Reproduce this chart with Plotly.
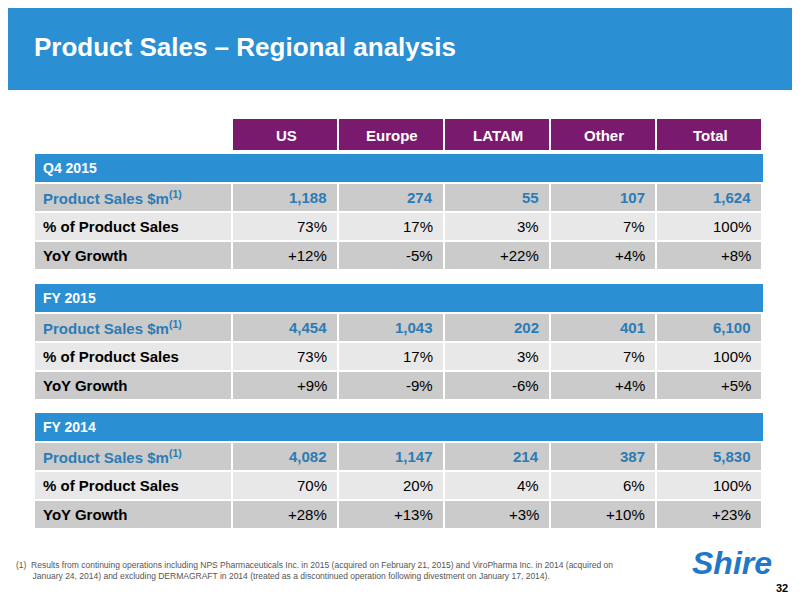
import plotly.graph_objects as go

columns = ["US", "Europe", "LATAM", "Other", "Total"]
sections = ["Q4 2015", "FY 2015", "FY 2014"]
row_labels = ["Product Sales $m<sup>(1)</sup>", "% of Product Sales", "YoY Growth"]

q4_2015 = [["1,188", "274", "55", "107", "1,624"],
           ["73%", "17%", "3%", "7%", "100%"],
           ["+12%", "-5%", "+22%", "+4%", "+8%"]]
fy_2015 = [["4,454", "1,043", "202", "401", "6,100"],
           ["73%", "17%", "3%", "7%", "100%"],
           ["+9%", "-9%", "-6%", "+4%", "+5%"]]
fy_2014 = [["4,082", "1,147", "214", "387", "5,830"],
           ["70%", "20%", "4%", "6%", "100%"],
           ["+28%", "+13%", "+3%", "+10%", "+23%"]]
tables = [q4_2015, fy_2015, fy_2014]

footnote = ("(1)  Results from continuing operations including NPS Pharmaceuticals Inc. in 2015 (acquired on February 21, 2015) and ViroPharma Inc. in 2014 (acquired on<br>"
            "       January 24, 2014) and excluding DERMAGRAFT in 2014 (treated as a discontinued operation following divestment on January 17, 2014).")

BLUE = "#2b8fd4"
PURPLE = "#7a1a6f"
DARK = "#cbcbcb"
LIGHT = "#e8e8e8"
FONT = "Liberation Sans"

# page body adds an 8px margin, so draw everything shifted back
OFF = 8

shapes = []
ann = []

def rect(x0, y0, x1, y1, color):
    shapes.append(dict(type="rect", x0=x0 - OFF, x1=x1 - OFF, y0=y0 - OFF, y1=y1 - OFF,
                       fillcolor=color, line=dict(width=0), layer="below"))

def text(x, y, s, size=15, color="black", bold=True, anchor="left"):
    if bold:
        s = "<b>" + s + "</b>"
    ann.append(dict(x=x - OFF, y=y - OFF, text=s, showarrow=False, xanchor=anchor, yanchor="middle",
                    font=dict(family=FONT, size=size, color=color)))

# header band
rect(0, 0, 820, 90, BLUE)
text(32, 47, "Product Sales – Regional analysis", size=26, color="white")

col_x = [233, 339, 445, 551, 657, 763]
label_x0 = 35

for i, c in enumerate(columns):
    rect(col_x[i], 119, col_x[i + 1] - 2, 150, PURPLE)
    text((col_x[i] + col_x[i + 1]) / 2, 135, c, size=15, color="white", anchor="center")

starts = [154, 284, 413]
for s, (sec, tab) in enumerate(zip(sections, tables)):
    y = starts[s]
    rect(label_x0, y, 763, y + 28, BLUE)
    text(label_x0 + 6, y + 14, sec, size=14, color="white")
    y += 30
    for r, lab in enumerate(row_labels):
        fill = LIGHT if r == 1 else DARK
        color = "#2a7cb6" if r == 0 else "black"
        rect(label_x0, y, col_x[0] - 2, y + 27, fill)
        text(label_x0 + 6, y + 13.5, lab, size=15, color=color)
        for i, v in enumerate(tab[r]):
            rect(col_x[i], y, col_x[i + 1] - 2, y + 27, fill)
            text(col_x[i + 1] - 10, y + 13.5, v, size=15, color=color, bold=(r == 0), anchor="right")
        y += 29

ann.append(dict(x=14 - OFF, y=570 - OFF, text=footnote, showarrow=False, xanchor="left", yanchor="middle",
                align="left", font=dict(family=FONT, size=8.5, color="#555555")))
text(732, 563, "<i>Shire</i>", size=32, color="#1f78c8", anchor="center")
text(790, 588, "32", size=11, anchor="right")

fig = go.Figure()
fig.update_layout(width=800, height=601, margin=dict(l=0, r=0, t=0, b=0),
                  plot_bgcolor="white", paper_bgcolor="white",
                  shapes=shapes, annotations=ann, showlegend=False,
                  xaxis=dict(range=[0, 800], visible=False, fixedrange=True),
                  yaxis=dict(range=[601, 0], visible=False, fixedrange=True))
fig.write_html("out.html")
